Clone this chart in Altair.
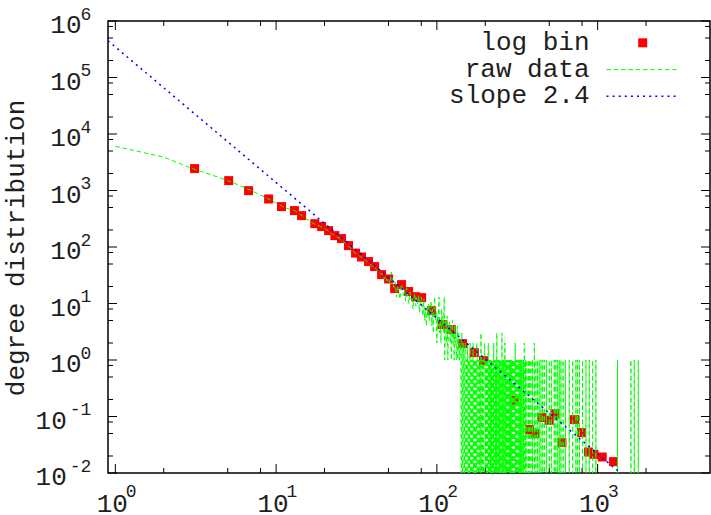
import altair as alt
import pandas as pd

# ---------------- data ----------------
# log-binned degree distribution (red squares)
bin_k = [3.11, 5.07, 6.74, 8.98, 10.8, 13.0, 14.4, 17.4, 19.2, 21.2, 23.2, 25.5, 28.2,
         31.2, 34.0, 37.6, 41.0, 45.3, 50.1, 54.6, 60.3, 66.7, 73.7, 80.4, 92.7, 108,
         123, 144.5, 171, 195, 303, 376, 408, 448, 500, 542, 600, 718, 794, 878, 948,
         1068, 1256]
bin_p = [2443, 1496, 995, 708, 519, 441, 359, 259, 230, 195, 159, 141, 106,
         78, 66.5, 55.2, 45.0, 32.5, 27.2, 18.4, 21.6, 16.3, 13.2, 12.7, 7.48, 4.23,
         3.45, 1.95, 1.35, 0.975, 0.194, 0.0586, 0.0498, 0.0957, 0.0857, 0.112, 0.0345,
         0.088, 0.0519, 0.0235, 0.0214, 0.0192, 0.0159]

# raw degree counts for k = 1..139
raw_head = [6060, 3900, 2450, 1870, 1500, 1210, 995, 830, 708, 600,
            519, 470, 441, 385, 335, 292, 262, 242, 230, 212,
            195, 175, 159, 150, 141, 126, 117, 106, 96, 86,
            78, 75, 69, 66, 60, 58, 55, 50, 48, 45,
            46, 40, 37, 35, 33, 34, 27, 30, 25, 28,
            22, 36, 24, 19, 24, 13, 21, 16, 12, 22,
            19, 14, 17, 11, 19, 13, 10, 16, 12, 14,
            8, 12, 15, 9, 13, 10, 14, 7, 11, 13,
            9, 6, 12, 5, 8, 4, 9, 6, 10, 5,
            7, 11, 4, 8, 3, 9, 13, 5, 7, 2,
            6, 4, 13, 3, 5, 2, 8, 4, 6, 3,
            13, 1, 5, 3, 2, 6, 1, 4, 3, 5,
            2, 4, 1, 3, 5, 2, 3, 1, 4, 2,
            3, 1, 2, 4, 1, 2, 3, 1, 2]
# raw tail (k >= 140): degrees with count 1, 2 and 3; every other degree has count 0
tail_k1 = [141, 144, 147, 149, 152, 153, 156, 158, 160, 163, 165, 166, 170, 171, 173, 175,
           178, 180, 181, 183, 184, 186, 189, 191, 192, 194, 196, 197, 199, 201, 202, 204,
           206, 208, 211, 213, 215, 217, 219, 221, 223, 225, 228, 230, 232, 234, 238, 240,
           243, 245, 247, 250, 252, 257, 259, 262, 267, 270, 273, 275, 279, 281, 283, 287,
           289, 291, 294, 296, 300, 303, 310, 313, 315, 320, 323, 326, 331, 334, 337, 343,
           346, 356, 363, 371, 378, 385, 394, 413, 423, 433, 444, 455, 466, 480, 500, 515,
           537, 550, 564, 577, 591, 610, 630, 666, 699, 733, 750, 770, 806, 846, 887, 930,
           975, 1330, 1610, 1690, 1790]
tail_k2 = [140, 146, 150, 155, 161, 168, 177, 198, 209, 226, 265, 307, 350, 404]
tail_k3 = [143, 188, 236, 254]
k_max = 1800

# fitted power law drawn as a straight line (end points)
slope_k = [0.9, 1386]
slope_p = [4.47e5, 0.01]

legend_labels = ["log bin", "raw data", "slope 2.4"]

x_major = [1, 10, 100, 1000]
x_major_exp = ["0", "1", "2", "3"]
x_minor = [2, 5, 8, 20, 50, 80, 200, 500, 800, 2000]
y_major = [1e-2, 1e-1, 1e0, 1e1, 1e2, 1e3, 1e4, 1e5, 1e6]
y_major_exp = ["-2", "-1", "0", "1", "2", "3", "4", "5", "6"]
y_minor = [m * 10.0 ** e for e in range(-2, 6) for m in (2, 5, 8)]

# ---------------- tables ----------------
FLOOR = 1e-4  # zero counts fall below the visible range
tail = {}
for n, ks in ((1, tail_k1), (2, tail_k2), (3, tail_k3)):
    for k in ks:
        tail[k] = n
raw_rows = []
for k in range(1, k_max + 1):
    n = raw_head[k - 1] if k <= len(raw_head) else tail.get(k, 0)
    raw_rows.append({"k": k, "p": n if n > 0 else FLOOR})
raw_df = pd.DataFrame(raw_rows)
bins_df = pd.DataFrame({"k": bin_k, "p": bin_p})
slope_df = pd.DataFrame({"k": slope_k, "p": slope_p})

W, H = 602, 452
FONT = "Liberation Mono"
FS = 26
FS_EXP = 18
TXT = "#1e1e1e"
xs = alt.Scale(type="log", domain=[0.9, 5000], nice=False)
ys = alt.Scale(type="log", domain=[0.01, 1e6], nice=False)
X = lambda: alt.X("k:Q", scale=xs, axis=None)
Y = lambda: alt.Y("p:Q", scale=ys, axis=None)

squares = alt.Chart(bins_df).mark_square(size=81, color="#ff0000", opacity=1,
                                         strokeWidth=0, clip=True).encode(x=X(), y=Y())
raw = alt.Chart(raw_df).mark_line(color="#00ff00", strokeWidth=1, strokeDash=[4.5, 2.8],
                                  clip=True).encode(x=X(), y=Y())
slope = alt.Chart(slope_df).mark_line(color="#0000ff", strokeWidth=1.5, strokeDash=[2, 4.1],
                                      clip=True).encode(x=X(), y=Y())

# ---------------- ticks (inward, mirrored) ----------------
def xticks(vals, ln):
    df = pd.DataFrame({"v": vals})
    xe = alt.X("v:Q", scale=xs, axis=None)
    b = alt.Chart(df).mark_rule(color="black", strokeWidth=1).encode(
        x=xe, y=alt.value(H), y2=alt.value(H - ln))
    t = alt.Chart(df).mark_rule(color="black", strokeWidth=1).encode(
        x=xe, y=alt.value(0), y2=alt.value(ln))
    return [b, t]

def yticks(vals, ln):
    df = pd.DataFrame({"v": vals})
    ye = alt.Y("v:Q", scale=ys, axis=None)
    l = alt.Chart(df).mark_rule(color="black", strokeWidth=1).encode(
        y=ye, x=alt.value(0), x2=alt.value(ln))
    r = alt.Chart(df).mark_rule(color="black", strokeWidth=1).encode(
        y=ye, x=alt.value(W), x2=alt.value(W - ln))
    return [l, r]

ticks = xticks(x_major, 9) + xticks(x_minor, 5) + yticks(y_major, 9) + yticks(y_minor, 5)

# ---------------- tick labels ----------------
xl_df = pd.DataFrame({"v": x_major, "e": x_major_exp})
x_base = alt.Chart(xl_df).mark_text(font=FONT, fontSize=FS, align="right", baseline="alphabetic",
                                    dx=12.5, color=TXT).encode(
    x=alt.X("v:Q", scale=xs, axis=None), y=alt.value(H + 39), text=alt.value("10"))
x_exp = alt.Chart(xl_df).mark_text(font=FONT, fontSize=FS_EXP, align="left", baseline="alphabetic",
                                   dx=10.4, color=TXT).encode(
    x=alt.X("v:Q", scale=xs, axis=None), y=alt.value(H + 24), text="e:N")

yl_df = pd.DataFrame({"v": y_major, "e": y_major_exp})
y_exp = alt.Chart(yl_df).mark_text(font=FONT, fontSize=FS_EXP, align="right", baseline="alphabetic",
                                   dy=-1.5, color=TXT).encode(
    y=alt.Y("v:Q", scale=ys, axis=None), x=alt.value(-16.7), text="e:N")
y_base_pos = alt.Chart(yl_df).transform_filter("datum.v >= 1").mark_text(
    font=FONT, fontSize=FS, align="right", baseline="alphabetic", dy=12, color=TXT).encode(
    y=alt.Y("v:Q", scale=ys, axis=None), x=alt.value(-26.5), text=alt.value("10"))
y_base_neg = alt.Chart(yl_df).transform_filter("datum.v < 1").mark_text(
    font=FONT, fontSize=FS, align="right", baseline="alphabetic", dy=12, color=TXT).encode(
    y=alt.Y("v:Q", scale=ys, axis=None), x=alt.value(-41.2), text=alt.value("10"))

y_title = alt.Chart(pd.DataFrame({"t": ["degree distribution"]})).mark_text(
    font=FONT, fontSize=FS, angle=270, align="center", baseline="middle", color=TXT).encode(
    x=alt.value(-92), y=alt.value(H / 2 + 1), text="t:N")

# ---------------- legend ----------------
leg_df = pd.DataFrame({"t": legend_labels, "i": list(range(len(legend_labels)))})
leg_text = alt.Chart(leg_df).transform_calculate(py="29.3 + datum.i * 26.3").mark_text(
    font=FONT, fontSize=FS, align="right", baseline="alphabetic", color=TXT).encode(
    x=alt.value(481.5), y=alt.Y("py:Q", scale=None, axis=None), text="t:N")
leg_sq = alt.Chart(pd.DataFrame({"t": ["log bin"]})).mark_square(
    size=81, color="#ff0000", opacity=1, strokeWidth=0).encode(x=alt.value(534.7), y=alt.value(21.8))
leg_green = alt.Chart(pd.DataFrame({"t": ["raw data"]})).mark_rule(
    color="#00ff00", strokeWidth=1, strokeDash=[4.5, 2.8]).encode(
    x=alt.value(498.5), x2=alt.value(571.5), y=alt.value(48.6))
leg_blue = alt.Chart(pd.DataFrame({"t": ["slope 2.4"]})).mark_rule(
    color="#0000ff", strokeWidth=1.5, strokeDash=[2, 4.1]).encode(
    x=alt.value(498.5), x2=alt.value(571.5), y=alt.value(75.3))

chart = alt.layer(
    squares, raw, slope, *ticks, x_base, x_exp, y_exp, y_base_pos, y_base_neg, y_title,
    leg_text, leg_sq, leg_green, leg_blue
).properties(
    width=W, height=H,
    autosize=alt.AutoSizeParams(type="none"),
    padding={"left": 108, "top": 21, "right": 1, "bottom": 42},
).configure_view(stroke="black", strokeWidth=1.5)

chart.save("out.html", embed_options={"renderer": "svg", "actions": False})
